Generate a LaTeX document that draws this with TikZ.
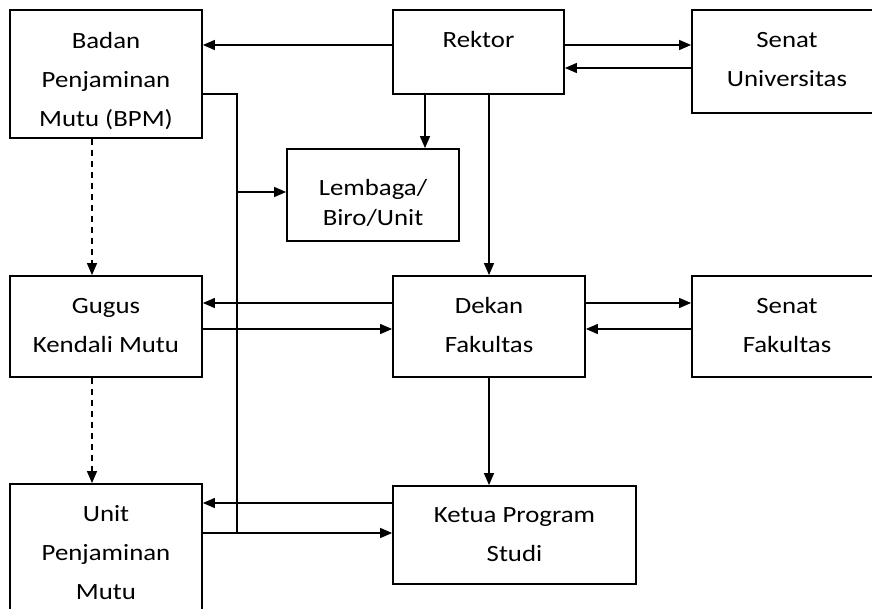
\documentclass[tikz,border=0pt]{standalone}
\usepackage{fontspec}
\setmainfont{Carlito}[FakeStretch=1.15]
\usepackage{tikz}
\usetikzlibrary{arrows.meta}
\pgfdeclarelayer{edgelayer}
\pgfdeclarelayer{nodelayer}
\pgfsetlayers{edgelayer,nodelayer,main}
\tikzstyle{block}=[rectangle,draw=black,line width=0.9pt,inner sep=0pt]
\tikzstyle{caption}=[inner sep=0pt,align=center,anchor=north,font=\fontsize{11.65pt}{19.5pt}\selectfont]
\tikzstyle{flow}=[-{Triangle[length=6pt,width=5pt]},draw=black,line width=0.7pt]
\tikzstyle{dashed_flow}=[flow,dash pattern=on 3pt off 2.5pt]
\tikzstyle{bus}=[draw=black,line width=0.7pt]

\begin{document}
\begin{tikzpicture}[x=0.5pt,y=-0.5pt]
	\useasboundingbox (0,0) rectangle (872,609);
	\begin{pgfonlayer}{nodelayer}
		\node [style=block, minimum width=96pt, minimum height=64pt] (bpm) at (106, 74) {};
		\node [style=block, minimum width=85.5pt, minimum height=42pt] (rektor) at (478.5, 52) {};
		\node [style=block, minimum width=95pt, minimum height=51.5pt] (senatu) at (787, 61.5) {};
		\node [style=block, minimum width=86pt, minimum height=46pt] (lembaga) at (373, 195) {};
		\node [style=block, minimum width=96pt, minimum height=50.5pt] (gugus) at (106, 326.5) {};
		\node [style=block, minimum width=96pt, minimum height=50.5pt] (dekan) at (489, 326.5) {};
		\node [style=block, minimum width=95pt, minimum height=50.5pt] (senatf) at (787, 326.5) {};
		\node [style=block, minimum width=96pt, minimum height=78pt] (upm) at (106, 562) {};
		\node [style=block, minimum width=121.5pt, minimum height=49pt] (kps) at (514.5, 535) {};
		% texts
		\node [style=caption] (bpm-t) at (106, 32) {Badan\\Penjaminan\\Mutu (BPM)};
		\node [style=caption] (rektor-t) at (478.5, 31) {Rektor};
		\node [style=caption] (senatu-t) at (787, 32) {Senat\\Universitas};
		\node [style=caption, font=\fontsize{11.65pt}{15pt}\selectfont] (lembaga-t) at (373, 179) {Lembaga/\\Biro/Unit};
		\node [style=caption] (gugus-t) at (106, 298) {Gugus\\Kendali Mutu};
		\node [style=caption] (dekan-t) at (489, 297) {Dekan\\Fakultas};
		\node [style=caption] (senatf-t) at (787, 298) {Senat\\Fakultas};
		\node [style=caption] (upm-t) at (106, 505) {Unit\\Penjaminan\\Mutu};
		\node [style=caption] (kps-t) at (514.5, 507) {Ketua Program\\Studi};
		\coordinate (branch) at (237, 192);
		\coordinate (join) at (237, 533);
	\end{pgfonlayer}
	\begin{pgfonlayer}{edgelayer}
		\draw [style=flow] ([yshift=3.5pt]rektor.west) to ([yshift=14.5pt]bpm.east);
		\draw [style=flow] ([yshift=3.5pt]rektor.east) to ([yshift=8.25pt]senatu.west);
		\draw [style=flow] ([yshift=-3.25pt]senatu.west) to ([yshift=-8pt]rektor.east);
		\draw [style=flow] ([xshift=-26.75pt]rektor.south) to ([xshift=26pt]lembaga.north);
		\draw [style=flow] ([xshift=5.25pt]rektor.south) to (dekan.north);
		\draw [style=dashed_flow] ([xshift=-7pt]bpm.south) to ([xshift=-7pt]gugus.north);
		\draw [style=dashed_flow] ([xshift=-7pt]gugus.south) to ([xshift=-7pt]upm.north);
		\draw [style=bus] ([yshift=-10pt]bpm.east) -| (join);
		\draw [style=flow] (branch) to (branch -| lembaga.west);
		\draw [style=flow] ([yshift=11.75pt]dekan.west) to ([yshift=11.75pt]gugus.east);
		\draw [style=flow] ([yshift=-1.25pt]gugus.east) to ([yshift=-1.25pt]dekan.west);
		\draw [style=flow] ([yshift=11.75pt]dekan.east) to ([yshift=11.75pt]senatf.west);
		\draw [style=flow] ([yshift=-1.25pt]senatf.west) to ([yshift=-1.25pt]dekan.east);
		\draw [style=flow] (dekan.south) to ([xshift=-12.75pt]kps.north);
		\draw [style=flow] ([yshift=16pt]kps.west) to ([yshift=29.5pt]upm.east);
		\draw [style=flow] ([yshift=14.5pt]upm.east) to ([yshift=1pt]kps.west);
	\end{pgfonlayer}
\end{tikzpicture}
\end{document}
